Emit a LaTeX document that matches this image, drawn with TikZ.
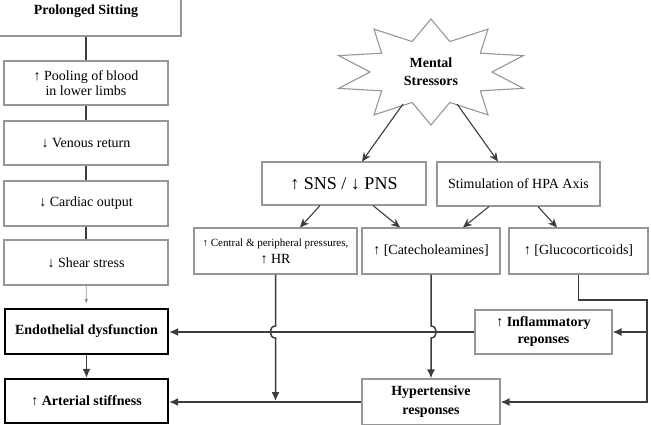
\documentclass[tikz,border=0pt]{standalone}
\usepackage{fontspec}
\setmainfont{Liberation Serif}
\usetikzlibrary{arrows.meta, positioning, calc}
\definecolor{boxgray}{RGB}{150,150,150}
\definecolor{linedark}{RGB}{60,60,60}
\tikzset{
  block/.style={rectangle, draw=boxgray, line width=1.1pt, align=center,
    inner sep=0pt, minimum width=164pt, minimum height=44pt,
    font=\fontsize{14}{17}\selectfont},
  keyblock/.style={block, draw=black, line width=2.2pt,
    font=\fontsize{14}{17}\selectfont\bfseries},
  arrow/.style={-{Latex[length=9pt,width=8pt]}, line width=1.5pt, color=linedark},
  line/.style={line width=1.5pt, color=linedark},
  thinarrow/.style={-{Stealth[length=9pt,width=8pt]}, line width=1.1pt, color=linedark}
}

\begin{document}
\begin{tikzpicture}[x=1pt, y=-1pt]
  \clip (0,0) rectangle (651,424);

  % Sitting column
  \node[block, minimum width=190pt, minimum height=50pt,
    font=\fontsize{14}{17}\selectfont\bfseries] (sit) at (86,11) {Prolonged Sitting};
  \node[block, font=\fontsize{14}{15}\selectfont] (pool) at (86,83) {↑ Pooling of blood\\in lower limbs};
  \node[block] (venous) at (86,143) {↓ Venous return};
  \node[block, minimum height=45pt] (cardiac) at (86,203.5) {↓ Cardiac output};
  \node[block, minimum height=45pt] (shear) at (86,262.5) {↓ Shear stress};
  \node[keyblock, minimum width=163pt, minimum height=45pt] (endo) at (86.5,331.5) {Endothelial dysfunction};
  \node[keyblock, minimum width=163pt] (arter) at (86.5,401) {↑ Arterial stiffness};

  \draw[line] (sit) -- (pool);
  \draw[line] (pool) -- (venous);
  \draw[line] (venous) -- (cardiac);
  \draw[line] (cardiac) -- (shear);
  \draw[-{Latex[length=5pt,width=4pt]}, line width=0.8pt, color=boxgray, shorten >=4pt] (shear) -- (endo);
  \draw[arrow] (endo) -- (arter);

  % Stressor
  \node[font=\fontsize{14}{18}\selectfont\bfseries, align=center] (stress) at (431,72) {Mental\\Stressors};
  \draw[draw=boxgray, line width=1.1pt, shift={(stress.center)}] (90:97 and 53)
    \foreach \a [evaluate=\a as \b using \a+18] in {90,126,...,414} { -- (\a:97 and 53) -- (\b:61 and 32) } -- cycle;
  \coordinate (stressL) at (403,104);
  \coordinate (stressR) at (457,104);

  % Nervous and hormonal paths
  \node[block, minimum height=43pt, font=\fontsize{18}{21}\selectfont] (sns) at (344,183.5) {↑ SNS / ↓ PNS};
  \node[block, minimum width=163pt] (hpa) at (518.5,184) {Stimulation of HPA Axis};
  \node[block, minimum width=163pt, minimum height=46pt] (hr) at (275.5,251)
    {{\fontsize{11}{13}\selectfont ↑ Central \& peripheral pressures,}\\↑ HR};
  \node[block, minimum width=138pt, minimum height=46pt] (cat) at (431,251) {↑ [Catecholeamines]};
  \node[block, minimum width=139pt, minimum height=46pt] (gluco) at (578.5,251) {↑ [Glucocorticoids]};

  \draw[thinarrow] (stressL) -- ([xshift=18pt]sns.north);
  \draw[thinarrow] (stressR) -- ([xshift=-20.5pt]hpa.north);
  \draw[thinarrow] ([xshift=-24pt]sns.south) -- ([xshift=24.5pt]hr.north);
  \draw[thinarrow] ([xshift=29pt]sns.south) -- ([xshift=-31pt]cat.north);
  \draw[thinarrow] ([xshift=-29.5pt]hpa.south) -- ([xshift=32pt]cat.north);
  \draw[thinarrow] ([xshift=19.5pt]hpa.south) -- ([xshift=-21.5pt]gluco.north);

  % Responses
  \node[block, minimum width=137pt, font=\fontsize{14}{17}\selectfont\bfseries] (infl) at (543.5,332)
    {↑ Inflammatory\\reponses};
  \node[block, minimum width=138pt, minimum height=46pt, font=\fontsize{14}{19}\selectfont\bfseries] (hyper) at (431,402)
    {Hypertensive\\responses};

  \draw[arrow] (infl.west) -- (infl.west -| endo.east);
  \draw[arrow] (hyper.west) -- (hyper.west -| arter.east);

  % Jumps over the endothelial line
  \coordinate (hrjump) at (hr.south |- infl.west);
  \draw[arrow] (hr.south) -- ($(hrjump)+(0,-6)$)
    .. controls ($(hrjump)+(-7,-6)$) and ($(hrjump)+(-7,6)$) .. ($(hrjump)+(0,6)$)
    -- (hr.south |- arter.east);
  \coordinate (catjump) at (cat.south |- infl.west);
  \draw[arrow] (cat.south) -- ($(catjump)+(0,-6)$)
    .. controls ($(catjump)+(7,-6)$) and ($(catjump)+(7,6)$) .. ($(catjump)+(0,6)$)
    -- (hyper.north);

  % Glucocorticoid rail
  \coordinate (rail) at (647,300);
  \draw[arrow] (gluco.south) |- (rail) |- (hyper.east);
  \draw[arrow] (rail |- infl.east) -- (infl.east);
\end{tikzpicture}
\end{document}
